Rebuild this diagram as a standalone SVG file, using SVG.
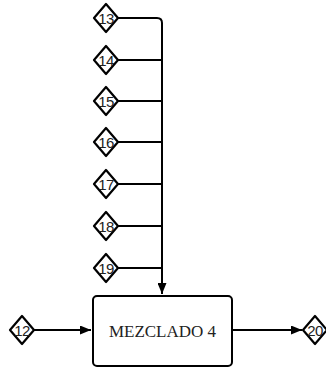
<svg xmlns="http://www.w3.org/2000/svg" width="326" height="367" viewBox="0 0 326 367">
  <style>
    .tag polygon { fill: #fff; stroke: #000; stroke-width: 2.2; stroke-linejoin: round; }
    .tag text { font-family: "Liberation Sans", Arial, sans-serif; font-size: 15px; text-anchor: middle; dominant-baseline: central; fill: #222; letter-spacing: -0.5px; }
    .wire { fill: none; stroke: #000; stroke-width: 2; }
    .box rect { fill: #fff; stroke: #000; stroke-width: 2; }
    .box text { font-family: "Liberation Serif", "Times New Roman", serif; font-size: 17px; text-anchor: middle; dominant-baseline: central; fill: #222; }
  </style>
  <defs>
    <marker id="arrow" markerWidth="11" markerHeight="9" refX="11" refY="4.5" orient="auto" markerUnits="userSpaceOnUse">
      <path d="M0,0 L11,4.5 L0,9 Z" fill="#000"/>
    </marker>
  </defs>

  <g id="connectors">
    <path class="wire" d="M118,18 H157 Q162,18 162,23 V294" marker-end="url(#arrow)"/>
    <path class="wire" d="M118,60 H162"/>
    <path class="wire" d="M118,101 H162"/>
    <path class="wire" d="M118,142 H162"/>
    <path class="wire" d="M118,184 H162"/>
    <path class="wire" d="M118,226 H162"/>
    <path class="wire" d="M118,268 H162"/>
    <path class="wire" d="M34,330 H91" marker-end="url(#arrow)"/>
    <path class="wire" d="M233,330 H302" marker-end="url(#arrow)"/>
  </g>

  <g id="node-13" class="tag" transform="translate(106,18)"><polygon points="0,-14 12,0 0,14 -12,0"/><text>13</text></g>
  <g id="node-14" class="tag" transform="translate(106,60)"><polygon points="0,-14 12,0 0,14 -12,0"/><text>14</text></g>
  <g id="node-15" class="tag" transform="translate(106,101)"><polygon points="0,-14 12,0 0,14 -12,0"/><text>15</text></g>
  <g id="node-16" class="tag" transform="translate(106,142)"><polygon points="0,-14 12,0 0,14 -12,0"/><text>16</text></g>
  <g id="node-17" class="tag" transform="translate(106,184)"><polygon points="0,-14 12,0 0,14 -12,0"/><text>17</text></g>
  <g id="node-18" class="tag" transform="translate(106,226)"><polygon points="0,-14 12,0 0,14 -12,0"/><text>18</text></g>
  <g id="node-19" class="tag" transform="translate(106,268)"><polygon points="0,-14 12,0 0,14 -12,0"/><text>19</text></g>
  <g id="node-12" class="tag" transform="translate(22,330)"><polygon points="0,-14 12,0 0,14 -12,0"/><text>12</text></g>
  <g id="node-20" class="tag" transform="translate(315,330)"><polygon points="0,-14 12,0 0,14 -12,0"/><text>20</text></g>

  <g id="node-mezclado" class="box">
    <rect x="93" y="296" width="139" height="70" rx="4"/>
    <text x="162.5" y="331">MEZCLADO 4</text>
  </g>
</svg>
